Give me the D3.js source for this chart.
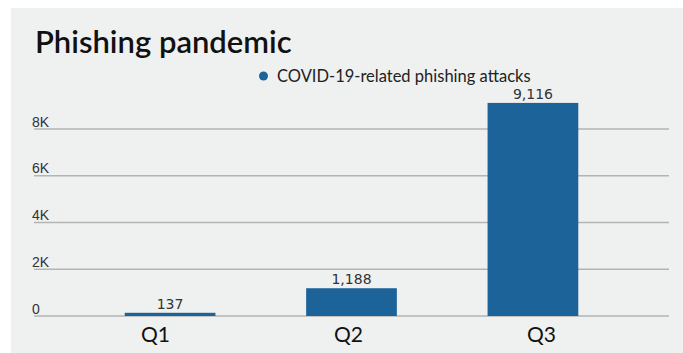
<!DOCTYPE html>
<html lang="en">
<head>
<meta charset="utf-8">
<title>Phishing pandemic</title>
<script src="https://d3js.org/d3.v7.min.js"></script>
<style>
  body { margin: 0; background: #fff; }
  svg { display: block; }
</style>
</head>
<body>
<div id="chart"></div>
<script>
// data
var quarters = ["Q1", "Q2", "Q3"];
var attacks = [137, 1188, 9116];
var yTicks = [0, 2000, 4000, 6000, 8000];
var yTickLabels = ["0", "2K", "4K", "6K", "8K"];
var seriesName = "COVID-19-related phishing attacks";

var width = 683, height = 353;
var blue = "#1c6399";

var svg = d3.select("#chart").append("svg")
    .attr("width", width)
    .attr("height", height);

// grey panel
svg.append("rect")
    .attr("x", 11).attr("y", 8)
    .attr("width", width - 11).attr("height", height - 8)
    .attr("fill", "#eff0f0");

// title
svg.append("text")
    .attr("x", 35).attr("y", 53)
    .style("font-family", "Lato, sans-serif")
    .style("font-weight", "600")
    .style("font-size", "31px")
    .attr("fill", "#111")
    .text("Phishing pandemic");

// legend
svg.append("circle")
    .attr("cx", 263.5).attr("cy", 76).attr("r", 4.5)
    .attr("fill", blue);
svg.append("text")
    .attr("x", 277).attr("y", 81.5)
    .style("font-family", "Lato, sans-serif")
    .style("font-size", "16.5px")
    .attr("fill", "#222")
    .text(seriesName);

// scales
var x = d3.scaleBand()
    .domain(quarters)
    .range([34, 669])
    .paddingInner(0.5)
    .paddingOuter(0.5);

// the category labels sit on a slightly wider spacing than the bars
var xLabel = d3.scalePoint()
    .domain(quarters)
    .range([155, 541]);

var y = d3.scaleLinear()
    .domain([0, 8000])
    .range([316, 129]);

// gridlines + y labels
var grid = svg.append("g");
grid.selectAll("line")
    .data(yTicks)
  .enter().append("line")
    .attr("x1", 34).attr("x2", 669)
    .attr("y1", function(d) { return y(d); })
    .attr("y2", function(d) { return y(d); })
    .attr("stroke", "#b4b4b4")
    .attr("stroke-width", 1.5);

grid.selectAll("text")
    .data(yTicks)
  .enter().append("text")
    .attr("x", 32)
    .attr("y", function(d) { return y(d) - 2.5; })
    .style("font-family", "'Liberation Sans', Arial, sans-serif")
    .style("font-size", "14px")
    .attr("fill", "#333")
    .text(function(d, i) { return yTickLabels[i]; });

// bars
svg.selectAll(".bar")
    .data(attacks)
  .enter().append("rect")
    .attr("class", "bar")
    .attr("x", function(d, i) { return x(quarters[i]); })
    .attr("width", x.bandwidth())
    .attr("y", function(d) { return y(d); })
    .attr("height", function(d) { return y(0) - y(d); })
    .attr("fill", blue);

// value labels
svg.selectAll(".val")
    .data(attacks)
  .enter().append("text")
    .attr("class", "val")
    .attr("x", function(d, i) { return x(quarters[i]) + x.bandwidth() / 2; })
    .attr("y", function(d) { return y(d) - 4; })
    .attr("text-anchor", "middle")
    .style("font-family", "'DejaVu Sans', sans-serif")
    .style("font-size", "14px")
    .attr("fill", "#333")
    .text(function(d) { return d3.format(",")(d); });

// x axis labels
var xAxis = d3.axisBottom(xLabel).tickSize(0).tickPadding(0);
var gx = svg.append("g")
    .attr("transform", "translate(0,342)")
    .call(xAxis);
gx.select(".domain").remove();
gx.selectAll("text")
    .attr("dy", 0)
    .style("font-family", "Lato, sans-serif")
    .style("font-size", "21px")
    .attr("fill", "#111");
</script>
</body>
</html>
